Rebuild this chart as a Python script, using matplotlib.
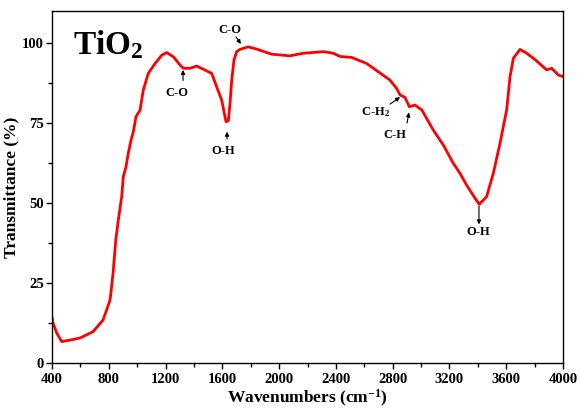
import matplotlib
matplotlib.use("Agg")
import matplotlib.pyplot as plt
from matplotlib.ticker import MultipleLocator

plt.rcParams['font.family'] = ['Liberation Serif', 'DejaVu Serif']
plt.rcParams['font.weight'] = 'bold'
plt.rcParams['mathtext.fontset'] = 'custom'
plt.rcParams['mathtext.rm'] = 'Liberation Serif:bold'
plt.rcParams['mathtext.bf'] = 'Liberation Serif:bold'
plt.rcParams['mathtext.it'] = 'Liberation Serif:bold'

# FTIR spectrum of TiO2
wavenumber = [400, 407, 433, 468, 520, 597, 689, 759, 809, 830, 849, 867, 891, 902,
              921, 937, 957, 973, 992, 1020, 1043, 1078, 1126, 1173, 1208, 1255,
              1302, 1325, 1372, 1419, 1466, 1525, 1560, 1595, 1614, 1626, 1642,
              1654, 1666, 1682, 1701, 1724, 1783, 1842, 1948, 2077, 2170, 2311,
              2382, 2429, 2511, 2617, 2699, 2781, 2828, 2852, 2887, 2917, 2957,
              3005, 3086, 3157, 3227, 3274, 3321, 3380, 3410, 3462, 3509, 3556,
              3603, 3627, 3650, 3697, 3744, 3803, 3885, 3920, 3967, 4000]
transmittance = [14.3, 12.5, 9.4, 6.7, 7.1, 7.8, 9.8, 13.4, 19.7, 28.0, 38.4, 44.7,
                 52.0, 58.2, 61.3, 65.5, 69.7, 72.3, 77.0, 79.0, 85.3, 90.5, 93.6,
                 96.2, 97.0, 95.7, 93.1, 92.1, 92.1, 92.8, 91.8, 90.5, 86.3, 82.2,
                 78.0, 75.4, 75.7, 81.1, 88.4, 94.7, 97.3, 98.0, 98.8, 98.1, 96.5,
                 96.0, 96.8, 97.3, 96.8, 95.8, 95.5, 93.6, 91.0, 88.4, 85.8, 83.75,
                 83.0, 80.1, 80.6, 79.1, 72.8, 68.1, 62.4, 59.3, 55.6, 51.5, 49.6,
                 52.0, 59.3, 68.6, 79.1, 89.5, 95.2, 98.0, 96.8, 94.8, 91.6, 92.1,
                 90.0, 89.5]

# band labels: text, text position, arrow tail, arrow head
band_labels = ["C-O", "C-O", "O-H", r"C-H$_2$", "C-H", "O-H"]
label_xy = [(1281, 84.4), (1654, 104.0), (1605, 66.3), (2676, 78.4), (2817, 71.3), (3401, 40.9)]
arrow_tail = [(1323, 88.3), (1696, 101.9), (1633, 70.0), (2781, 80.9), (2901, 75.0), (3408, 49.0)]
arrow_head = [(1323, 91.6), (1731, 99.7), (1633, 72.3), (2852, 83.1), (2915, 78.3), (3408, 43.3)]

fig = plt.figure(figsize=(5.8, 4.08), dpi=100)
ax = fig.add_axes([0.0897, 0.1103, 0.881, 0.8627])

ax.plot(wavenumber, transmittance, color='#ff0000', lw=2.0, solid_joinstyle='round')

ax.set_xlim(400, 4000)
ax.set_ylim(0, 110)
ax.xaxis.set_major_locator(MultipleLocator(400))
ax.xaxis.set_minor_locator(MultipleLocator(200))
ax.yaxis.set_major_locator(MultipleLocator(25))
ax.yaxis.set_minor_locator(MultipleLocator(12.5))
ax.tick_params(which='both', direction='out', width=1.0, labelsize=10.5)
ax.tick_params(axis='x', pad=3.5)
ax.tick_params(axis='y', pad=2)
ax.tick_params(which='major', length=4)
ax.tick_params(which='minor', length=3)
for s in ax.spines.values():
    s.set_linewidth(1.0)

ax.set_xlabel(r"Wavenumbers (cm$^{-1}$)", fontsize=12.5, fontweight='bold', labelpad=1)
ax.set_ylabel("Transmittance (%)", fontsize=12.5, fontweight='bold', labelpad=2)

ax.text(545, 99.5, r"TiO$_2$", fontsize=24, fontweight='bold', ha='left', va='center')

for lab, xy, t, h in zip(band_labels, label_xy, arrow_tail, arrow_head):
    ax.text(xy[0], xy[1], lab, fontsize=9, fontweight='bold', ha='center', va='center')
    ax.annotate("", xy=h, xytext=t,
                arrowprops=dict(arrowstyle='-|>', color='black', lw=0.8,
                                mutation_scale=6, shrinkA=0, shrinkB=0))

fig.savefig("out.png", dpi=100)
